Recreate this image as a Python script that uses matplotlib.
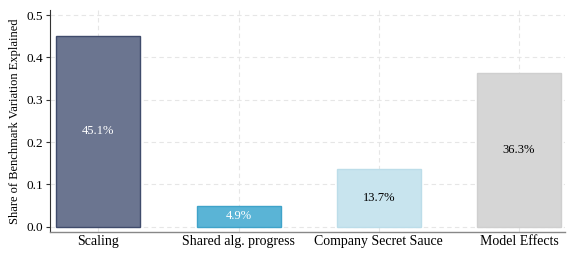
import matplotlib
matplotlib.use("Agg")
import matplotlib.pyplot as plt

categories = ["Scaling", "Shared alg. progress", "Company Secret Sauce", "Model Effects"]
values = [0.451, 0.049, 0.137, 0.363]
labels = ["45.1%", "4.9%", "13.7%", "36.3%"]
face_colors = ["#6b7590", "#5ab4d6", "#c8e4ee", "#d6d6d6"]
edge_colors = ["#3f4b6b", "#3fa3c9", "#bcdde9", "#cfcfcf"]
text_colors = ["white", "white", "black", "black"]
yticks = [0.0, 0.1, 0.2, 0.3, 0.4, 0.5]

plt.rcParams['font.family'] = ['Liberation Serif', 'DejaVu Serif']

fig = plt.figure(figsize=(5.75, 2.62), dpi=100)
ax = fig.add_axes([0.087, 0.115, 0.896, 0.847])

x = list(range(len(categories)))
ax.bar(x, values, width=0.6, color=face_colors, edgecolor=edge_colors, linewidth=1.0, zorder=3)
for xi, v, lab, tc in zip(x, values, labels, text_colors):
    ax.text(xi, v / 2, lab, ha="center", va="center", color=tc, fontsize=9, zorder=4)

ax.set_xlim(-0.345, 3.33)
ax.set_ylim(-0.012, 0.512)
ax.set_xticks(x)
ax.set_xticklabels(categories, fontsize=10)
ax.set_yticks(yticks)
ax.set_yticklabels([f"{t:.1f}" for t in yticks], fontsize=9.5)
ax.set_ylabel("Share of Benchmark Variation Explained", fontsize=9)
ax.tick_params(axis="x", length=0, pad=2)
ax.tick_params(axis="y", length=3, width=0.8, color="#333333", pad=2)
ax.grid(True, linestyle=(0, (4, 3)), color="#e6e6e6", linewidth=0.8, zorder=0)
ax.spines["top"].set_visible(False)
ax.spines["right"].set_visible(False)
ax.spines["left"].set_color("#333333")
ax.spines["left"].set_linewidth(0.8)
ax.spines["bottom"].set_color("#888888")
ax.spines["bottom"].set_linewidth(1.0)

fig.savefig("out.png", dpi=100)
